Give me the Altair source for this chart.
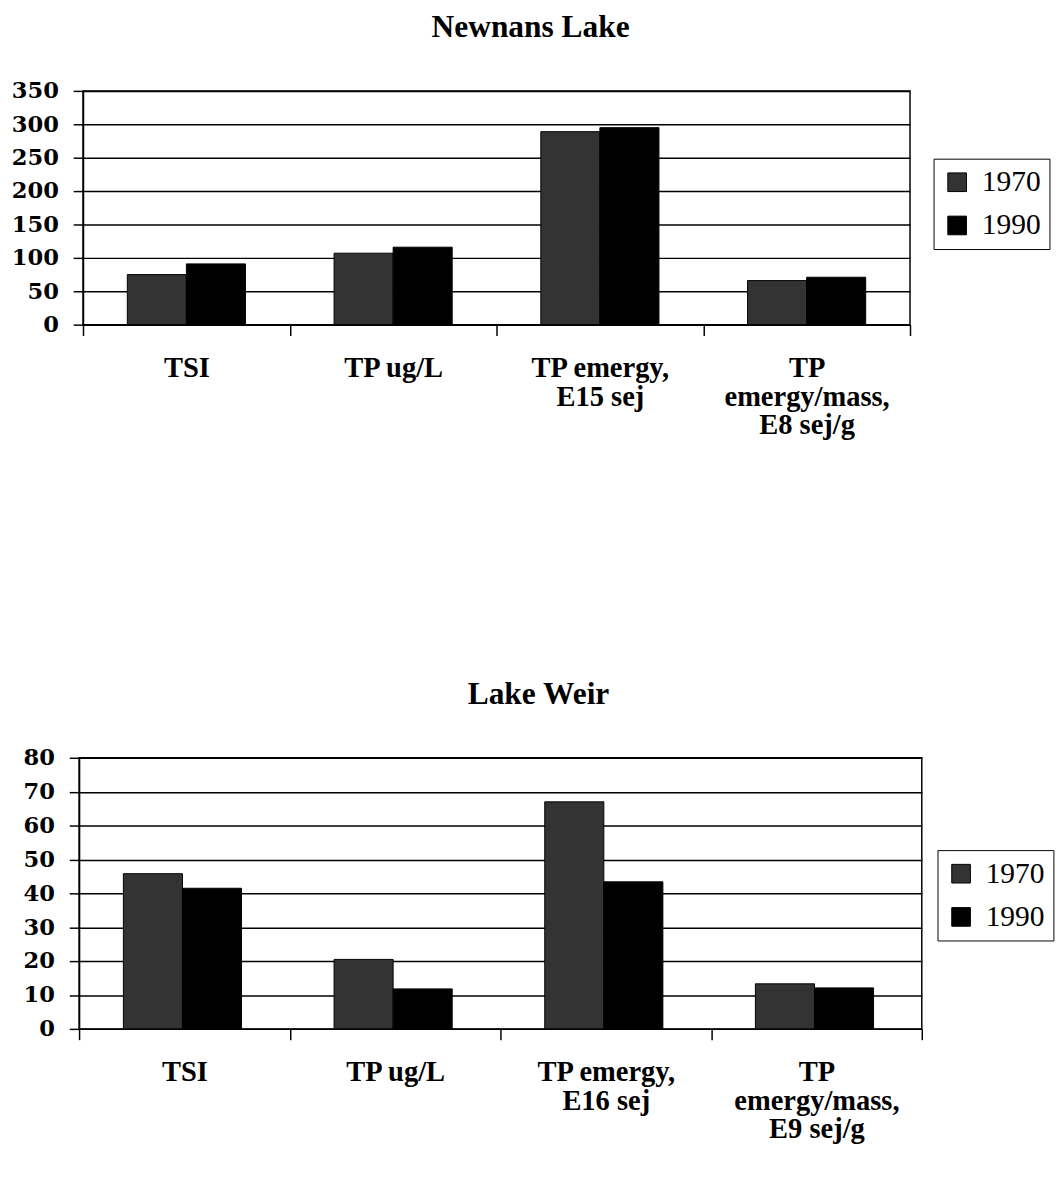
import altair as alt
import pandas as pd

# ---- data ----
years = ["1970", "1990"]

newnans_title = "Newnans Lake"
newnans_categories = ["TSI", "TP  ug/L", "TP emergy,\nE15 sej", "TP\nemergy/mass,\nE8 sej/g"]
newnans_1970 = [75, 107, 289, 66]
newnans_1990 = [91, 116, 295, 71]
newnans_ticks = [0, 50, 100, 150, 200, 250, 300, 350]

weir_title = "Lake Weir"
weir_categories = ["TSI", "TP  ug/L", "TP emergy,\nE16 sej", "TP\nemergy/mass,\nE9 sej/g"]
weir_1970 = [45.8, 20.5, 67, 13.3]
weir_1990 = [41.5, 11.8, 43.4, 12.1]
weir_ticks = [0, 10, 20, 30, 40, 50, 60, 70, 80]

year_colors = ["#333333", "#000000"]

SERIF = "Liberation Serif"


def make_df(cats, v1970, v1990):
    rows = []
    for c, a, b in zip(cats, v1970, v1990):
        rows.append({"category": c, "year": years[0], "value": a})
        rows.append({"category": c, "year": years[1], "value": b})
    return pd.DataFrame(rows)


def panel(df, cats, title, ticks, w, h, lx, ly):
    return (
        alt.Chart(
            df,
            title=alt.Title(
                title,
                font=SERIF,
                fontSize=32,
                fontWeight="bold",
                color="black",
                anchor="middle",
                frame="bounds",
                offset=37,
            ),
        )
        .mark_bar(stroke="black", strokeWidth=1)
        .encode(
            x=alt.X(
                "category:N",
                sort=cats,
                title=None,
                scale=alt.Scale(paddingInner=0, paddingOuter=0),
                axis=alt.Axis(
                    labelAngle=0,
                    tickBand="extent",
                    tickSize=11,
                    labelPadding=19,
                    labelExpr="split(datum.label, '\\n')",
                    labelFont=SERIF,
                    labelFontSize=29,
                    labelFontWeight="bold",
                    labelLineHeight=29,
                    labelLimit=400,
                    labelColor="black",
                    labelBaseline="top",
                    grid=False,
                ),
            ),
            xOffset=alt.XOffset(
                "year:N",
                sort=years,
                scale=alt.Scale(paddingOuter=0.75, paddingInner=0),
            ),
            y=alt.Y(
                "value:Q",
                title=None,
                scale=alt.Scale(domain=[ticks[0], ticks[-1]], nice=False),
                axis=alt.Axis(
                    values=ticks,
                    tickSize=10,
                    labelPadding=15,
                    labelFont="DejaVu Serif",
                    labelFontSize=23,
                    labelFontWeight="bold",
                    labelColor="black",
                    grid=True,
                ),
            ),
            color=alt.Color(
                "year:N",
                sort=years,
                title=None,
                scale=alt.Scale(domain=years, range=year_colors),
                legend=alt.Legend(
                    orient="none",
                    legendX=lx,
                    legendY=ly,
                    symbolType="square",
                    symbolSize=361,
                    symbolStrokeColor="black",
                    symbolStrokeWidth=1,
                    labelFont=SERIF,
                    labelFontSize=30,
                    labelColor="black",
                    labelOffset=10,
                    rowPadding=14,
                    padding=9,
                    strokeColor="black",
                ),
            ),
        )
        .properties(width=w, height=h)
    )


top = panel(
    make_df(newnans_categories, newnans_1970, newnans_1990),
    newnans_categories, newnans_title, newnans_ticks,
    842, 238, 866, 69,
)
bottom = panel(
    make_df(weir_categories, weir_1970, weir_1990),
    weir_categories, weir_title, weir_ticks,
    858, 276, 874, 94,
)

chart = (
    alt.vconcat(top, bottom, spacing=241, center=True, bounds="full")
    .resolve_scale(x="independent", y="independent")
    .resolve_legend(color="independent")
    .properties(padding={"left": 2, "top": -8, "right": 0, "bottom": 0})
    .configure(background="white")
    .configure_view(stroke="black", strokeWidth=1.5)
    .configure_axis(
        domainColor="black",
        domainWidth=1.5,
        tickColor="black",
        tickWidth=1.5,
        gridColor="black",
        gridWidth=1.5,
        gridOpacity=1,
    )
)

chart.save("out.html", embed_options={"renderer": "svg", "actions": False})
